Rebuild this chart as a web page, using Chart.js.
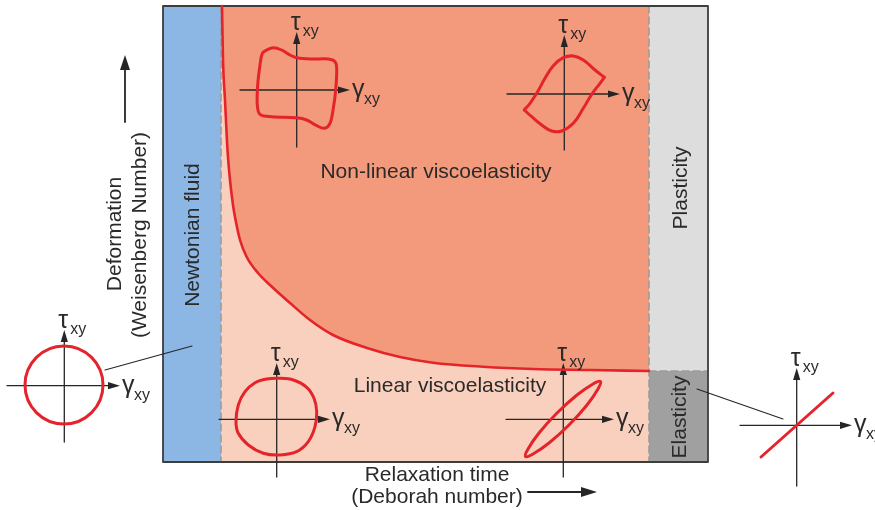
<!DOCTYPE html>
<html><head><meta charset="utf-8">
<script src="https://cdn.jsdelivr.net/npm/chart.js@4.4.1/dist/chart.umd.min.js"></script>
<style>html,body{margin:0;padding:0;background:#fff;overflow:hidden}</style>
</head><body>
<canvas id="c" width="875" height="510"></canvas>
<script>
// ---- Pipkin diagram values (diagram units: relaxation time → x, deformation ↓ y) ----
const newtonianSpan = [163, 221];
const viscoSpan = [221, 649];
const solidSpan = [649, 708];
const deformSpan = [6, 462];
const plasticSpan = [6, 371];
const elasticSpan = [371, 462];

// linear / non-linear boundary
const boundaryX = [222, 223, 225, 227.5, 230, 233, 235, 240, 246.7, 258, 270, 290, 310, 333, 367, 400, 433, 483, 533, 590, 649];
const boundaryY = [6, 60, 100, 150, 180, 205, 217, 240, 257, 273, 285, 303, 320, 335, 348, 357, 362.7, 366.7, 369, 370, 371];

// Lissajous loops (stress vs strain)
const loopNL1X = [266.7, 273.3, 281.7, 290, 296.7, 311.7, 328.3, 335, 336.7, 335.7, 333.3, 330, 324.3, 316.7, 306.7, 296.7, 271.7, 260, 257.3, 257.7, 260, 262.3];
const loopNL1Y = [50, 47.7, 50, 55, 57.7, 59, 59, 61.7, 68.3, 90, 108.3, 123.3, 128.3, 125.7, 120, 117.7, 116.7, 114.3, 105, 85, 65, 53.3];
// yielding loop: upper branch and lower branch between its two corners
const loopNL2UpperX = [524.3, 530, 536.7, 545, 553.3, 563.3, 573.3, 583.3, 595, 604.3];
const loopNL2UpperY = [110, 103.3, 93.3, 78.3, 65.7, 57.7, 56, 60, 70, 77.3];
const loopNL2LowerX = [604.3, 600, 591.7, 583.3, 573.3, 561.7, 551.7, 541.7, 531.7, 524.3];
const loopNL2LowerY = [77.3, 83.3, 94.3, 108.3, 123.3, 131, 131, 125, 116.7, 110];
const loopL1X = [236, 238.3, 245, 255, 266.7, 280, 293.3, 306.7, 314, 316.7, 315, 308.3, 296.7, 280, 263.3, 248.3, 238.3];
const loopL1Y = [421.7, 405, 391.7, 382.7, 379, 378.3, 380, 387.3, 398.3, 411.7, 426.7, 441.7, 451.7, 455, 453.3, 445, 433.3];
const loopL2X = [600.5, 598, 587, 569, 549, 533, 525.5, 528, 539, 557, 577, 593];
const loopL2Y = [381.5, 389, 405, 425, 443, 454, 456.5, 449, 433, 413, 395, 384];
const viscousCircleX = [64];
const viscousCircleY = [385];
const elasticLineX = [761, 833];
const elasticLineY = [457, 393];

// small stress/strain axes
const miniOriginX = [64.3, 296.7, 564.3, 276.7, 563.3, 796.7];
const miniOriginY = [385.7, 90, 94, 419.3, 419.3, 425.3];
const miniLeft = [7, 240, 507, 219, 506, 740];
const miniRight = [120, 350, 620, 330, 614, 852];
const miniTop = [330, 32, 35, 363, 363, 368];
const miniBottom = [442, 147, 150, 477, 477, 486];

// leader lines
const leaderLeftX = [105, 192];
const leaderLeftY = [370, 346];
const leaderRightX = [697, 783];
const leaderRightY = [389, 419];

// direction arrows
const deformArrowX = [125, 125];
const deformArrowY = [122, 55];
const relaxArrowX = [528, 597];
const relaxArrowY = [492, 492];

// texts
const labelText = ['Non-linear viscoelasticity', 'Linear viscoelasticity', 'Newtonian fluid', 'Plasticity', 'Elasticity', 'Deformation', '(Weisenberg Number)', 'Relaxation time', '(Deborah number)'];
const labelX = [436, 450, 193, 681, 680, 115, 140, 437, 437];
const labelY = [172, 386, 235, 188, 417, 234, 235, 475, 497];
const labelAngle = [0, 0, -90, -90, -90, -90, -90, 0, 0];
const stressSymbol = 'τ';
const strainSymbol = 'γ';
const subscriptText = 'xy';

// ---- styles ----
const RED = '#e4242a';
const INK = '#262626';

function pts(xs, ys) { return xs.map((x, i) => ({x, y: ys[i]})); }
function rect(xs, ys) { return [{x: xs[0], y: ys[0]}, {x: xs[1], y: ys[0]}, {x: xs[1], y: ys[1]}, {x: xs[0], y: ys[1]}]; }
function loopPts(xs, ys) {
  const n = xs.length, out = [];
  for (let k = -1; k <= n + 1; k++) { const i = ((k % n) + n) % n; out.push({x: xs[i], y: ys[i]}); }
  return out;
}
function arrowHead(x0, y0, x1, y1, len, half) {
  const L = Math.hypot(x1 - x0, y1 - y0), dx = (x1 - x0) / L, dy = (y1 - y0) / L;
  const bx = x1 - dx * len, by = y1 - dy * len;
  return [{x: x1, y: y1}, {x: bx - dy * half, y: by + dx * half}, {x: bx + dy * half, y: by - dx * half}];
}
function ds(data, opts) {
  return Object.assign({data, pointRadius: 0, pointHoverRadius: 0, borderWidth: 0, fill: false, tension: 0,
    borderColor: 'rgba(0,0,0,0)', backgroundColor: 'rgba(0,0,0,0)'}, opts);
}
function loopDs(xs, ys, order) {
  const data = loopPts(xs, ys), last = data.length - 1;
  return ds(data, {borderColor: RED, borderWidth: 3, tension: 0.35, order,
    segment: {borderColor: c => (c.p0DataIndex === 0 || c.p1DataIndex === last) ? 'rgba(0,0,0,0)' : RED}});
}

const datasets = [];
// backgrounds
datasets.push(ds(rect(newtonianSpan, deformSpan), {fill: 'shape', backgroundColor: '#8cb6e3', order: 60}));
datasets.push(ds(rect(viscoSpan, deformSpan), {fill: 'shape', backgroundColor: '#f9d0be', order: 60}));
datasets.push(ds(rect(solidSpan, plasticSpan), {fill: 'shape', backgroundColor: '#dddddd', order: 60}));
datasets.push(ds(rect(solidSpan, elasticSpan), {fill: 'shape', backgroundColor: '#a0a0a0', order: 60}));
datasets.push(ds(pts(boundaryX, boundaryY), {fill: {value: deformSpan[0]}, backgroundColor: '#f29a7b', cubicInterpolationMode: 'monotone', order: 55}));
// dashed region borders
const dash = {borderColor: '#9c9c9c', borderWidth: 1.6, borderDash: [7, 4], order: 40};
datasets.push(ds([{x: newtonianSpan[1], y: deformSpan[0]}, {x: newtonianSpan[1], y: deformSpan[1]}], dash));
datasets.push(ds([{x: solidSpan[0], y: deformSpan[0]}, {x: solidSpan[0], y: deformSpan[1]}], dash));
datasets.push(ds([{x: solidSpan[0], y: elasticSpan[0]}, {x: solidSpan[1], y: elasticSpan[0]}], dash));
// frame
const fr = rect([newtonianSpan[0], solidSpan[1]], deformSpan); fr.push(fr[0]);
datasets.push(ds(fr, {borderColor: '#3d3d3d', borderWidth: 1.8, order: 30}));
// boundary curve
datasets.push(ds(pts(boundaryX, boundaryY), {borderColor: RED, borderWidth: 2.6, cubicInterpolationMode: 'monotone', order: 5}));
// mini axes
for (let i = 0; i < miniOriginX.length; i++) {
  const ax = {borderColor: INK, borderWidth: 1.3, order: 10};
  datasets.push(ds([{x: miniLeft[i], y: miniOriginY[i]}, {x: miniRight[i] - 4, y: miniOriginY[i]}], ax));
  datasets.push(ds([{x: miniOriginX[i], y: miniBottom[i]}, {x: miniOriginX[i], y: miniTop[i] + 4}], ax));
  datasets.push(ds(arrowHead(miniLeft[i], miniOriginY[i], miniRight[i], miniOriginY[i], 12, 3.6), {fill: 'shape', backgroundColor: INK, order: 10}));
  datasets.push(ds(arrowHead(miniOriginX[i], miniBottom[i], miniOriginX[i], miniTop[i], 12, 3.6), {fill: 'shape', backgroundColor: INK, order: 10}));
}
// loops
datasets.push(loopDs(loopNL1X, loopNL1Y, 3));
datasets.push(ds(pts(loopNL2UpperX, loopNL2UpperY), {borderColor: RED, borderWidth: 3, tension: 0.4, order: 3}));
datasets.push(ds(pts(loopNL2LowerX, loopNL2LowerY), {borderColor: RED, borderWidth: 3, tension: 0.4, order: 3}));
datasets.push(loopDs(loopL1X, loopL1Y, 3));
datasets.push(loopDs(loopL2X, loopL2Y, 3));
datasets.push(ds(pts(viscousCircleX, viscousCircleY), {showLine: false, pointRadius: 39, pointBorderWidth: 3, pointBorderColor: RED, pointBackgroundColor: 'rgba(0,0,0,0)', pointStyle: 'circle', order: 3}));
datasets.push(ds(pts(elasticLineX, elasticLineY), {borderColor: RED, borderWidth: 3, order: 3}));
// leaders
datasets.push(ds(pts(leaderLeftX, leaderLeftY), {borderColor: INK, borderWidth: 1.1, order: 10}));
datasets.push(ds(pts(leaderRightX, leaderRightY), {borderColor: INK, borderWidth: 1.1, order: 10}));
// big arrows
datasets.push(ds([{x: deformArrowX[0], y: deformArrowY[0]}, {x: deformArrowX[1], y: deformArrowY[1] + 8}], {borderColor: INK, borderWidth: 1.8, order: 10}));
datasets.push(ds(arrowHead(deformArrowX[0], deformArrowY[0], deformArrowX[1], deformArrowY[1], 15, 5), {fill: 'shape', backgroundColor: INK, order: 10}));
datasets.push(ds([{x: relaxArrowX[0], y: relaxArrowY[0]}, {x: relaxArrowX[1] - 8, y: relaxArrowY[1]}], {borderColor: INK, borderWidth: 1.8, order: 10}));
datasets.push(ds(arrowHead(relaxArrowX[0], relaxArrowY[0], relaxArrowX[1], relaxArrowY[1], 16, 5), {fill: 'shape', backgroundColor: INK, order: 10}));

const FONT = '"Liberation Sans", Arial, Helvetica, sans-serif';
const labelPlugin = {
  id: 'diagramLabels',
  afterDatasetsDraw(chart) {
    const ctx = chart.ctx, sx = chart.scales.x, sy = chart.scales.y;
    ctx.save();
    ctx.fillStyle = '#2a2a2a';
    ctx.textAlign = 'center';
    ctx.textBaseline = 'middle';
    ctx.font = '21px ' + FONT;
    for (let i = 0; i < labelText.length; i++) {
      ctx.save();
      ctx.translate(sx.getPixelForValue(labelX[i]), sy.getPixelForValue(labelY[i]));
      ctx.rotate(labelAngle[i] * Math.PI / 180);
      ctx.fillText(labelText[i], 0, 0);
      ctx.restore();
    }
    ctx.textBaseline = 'alphabetic';
    for (let i = 0; i < miniOriginX.length; i++) {
      const ox = sx.getPixelForValue(miniOriginX[i]), oy = sy.getPixelForValue(miniOriginY[i]);
      const tx = sy.getPixelForValue(miniTop[i]), rx = sx.getPixelForValue(miniRight[i]);
      ctx.textAlign = 'center';
      ctx.font = '25px ' + FONT;
      ctx.fillText(stressSymbol, ox - 1, tx - 2);
      ctx.textAlign = 'left';
      ctx.font = '16px ' + FONT;
      ctx.fillText(subscriptText, ox + 6, tx + 4);
      ctx.font = '25px ' + FONT;
      ctx.fillText(strainSymbol, rx + 2, oy + 7);
      ctx.font = '16px ' + FONT;
      ctx.fillText(subscriptText, rx + 14, oy + 14);
    }
    ctx.restore();
  }
};

new Chart(document.getElementById('c'), {
  type: 'line',
  data: {datasets},
  options: {
    responsive: false, animation: false, events: [],
    layout: {padding: 0, autoPadding: false},
    plugins: {legend: {display: false}, tooltip: {enabled: false}},
    elements: {line: {borderCapStyle: 'round', borderJoinStyle: 'round'}},
    scales: {
      x: {type: 'linear', min: 0, max: 875, display: false},
      y: {type: 'linear', min: 0, max: 510, reverse: true, display: false}
    }
  },
  plugins: [labelPlugin]
});
</script>
</body></html>
